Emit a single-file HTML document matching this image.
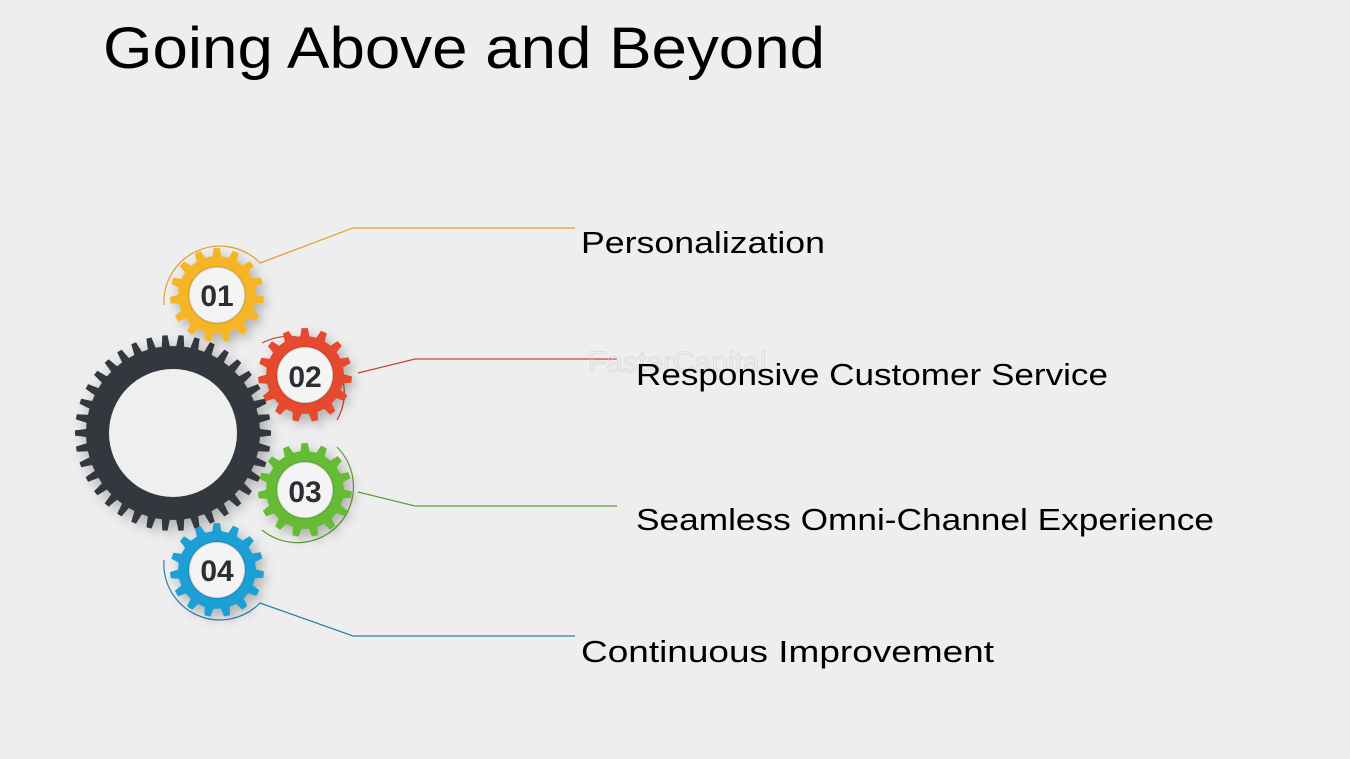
<!DOCTYPE html>
<html><head><meta charset="utf-8"><style>
html,body{margin:0;padding:0;background:#eeeeee;}
svg{display:block}
</style></head><body>
<svg id="s" width="1350" height="759" viewBox="0 0 1350 759" xmlns="http://www.w3.org/2000/svg">
<defs>
<filter id="sh" x="-30%" y="-30%" width="160%" height="160%"><feDropShadow dx="4" dy="5" stdDeviation="5" flood-color="#000" flood-opacity="0.25"/></filter>
</defs>
<rect width="1350" height="759" fill="#eeeeee"/>
<text x="103" y="68" font-family="Liberation Sans, Arial, sans-serif" font-size="58" fill="#000" textLength="722" lengthAdjust="spacingAndGlyphs">Going Above and Beyond</text>

<g fill="none" stroke-width="1.2">
<path d="M164 305 A56 56 0 0 1 260 263 L353 228 L575 228" stroke="#e89a2a"/>
<path d="M262 343 A56 56 0 0 1 337 420" stroke="#c9412f"/>
<path d="M358 373 L415 359 L617 359" stroke="#c9412f"/>
<path d="M337 447 A56 56 0 0 1 262 530" stroke="#5a9e35"/>
<path d="M358 492 L415 506 L617 506" stroke="#5a9e35"/>
<path d="M164 560 A56 56 0 0 0 260 603 L353 636 L575 636" stroke="#2a7fb0"/>
</g>
<g id="gears"></g>

<text x="588" y="372" font-family="Liberation Sans, sans-serif" font-size="30" fill="none" stroke="#d0d0d0" stroke-width="0.8" opacity="0.7">FasterCapital</text>

<g font-family="Liberation Sans, Arial, sans-serif" font-size="31" fill="#000">
<text x="581" y="253" textLength="244" lengthAdjust="spacingAndGlyphs">Personalization</text>
<text x="636" y="385" textLength="472" lengthAdjust="spacingAndGlyphs">Responsive Customer Service</text>
<text x="636" y="530" textLength="578" lengthAdjust="spacingAndGlyphs">Seamless Omni-Channel Experience</text>
<text x="581" y="662" textLength="413" lengthAdjust="spacingAndGlyphs">Continuous Improvement</text>
</g>
<g id="nums" font-family="Liberation Sans, Arial, sans-serif" font-weight="bold" font-size="30" fill="#2b2f33" text-anchor="middle">
<text x="217" y="306">01</text>
<text x="305" y="387">02</text>
<text x="305" y="502">03</text>
<text x="217" y="581">04</text>
</g>
</svg>
<script>
function gear(cx,cy,rt,rr,n,startA){
  var d="",step=2*Math.PI/n;
  for(var i=0;i<n;i++){
    var a=startA+i*step;
    var pts=[[rr,a-step*0.28],[rt,a-step*0.16],[rt,a+step*0.16],[rr,a+step*0.28]];
    for(var j=0;j<4;j++){
      var x=cx+pts[j][0]*Math.cos(pts[j][1]),y=cy+pts[j][0]*Math.sin(pts[j][1]);
      d+=(i==0&&j==0?"M":"L")+x.toFixed(1)+" "+y.toFixed(1)+" ";
    }
  }
  return d+"Z";
}
var g=document.getElementById("gears"),ns="http://www.w3.org/2000/svg";
function add(tag,attrs){var e=document.createElementNS(ns,tag);for(var k in attrs)e.setAttribute(k,attrs[k]);g.appendChild(e);return e;}
add("path",{d:gear(173,433,98,87,38,0),fill:"#33383d",filter:"url(#sh)"});
add("circle",{cx:173,cy:433,r:64,fill:"#efefef"});
var sm=[[217,295,"#f6b526"],[305,375,"#e5482f"],[305,490,"#66bb36"],[217,570,"#1f9fd4"]];
sm.forEach(function(s){
  add("path",{d:gear(s[0],s[1],47,39,15,0.1),fill:s[2],filter:"url(#sh)"});
  add("circle",{cx:s[0],cy:s[1],r:28,fill:"#f4f4f4",stroke:"rgba(0,0,0,0.12)","stroke-width":2});
});
</script>
</body></html>
